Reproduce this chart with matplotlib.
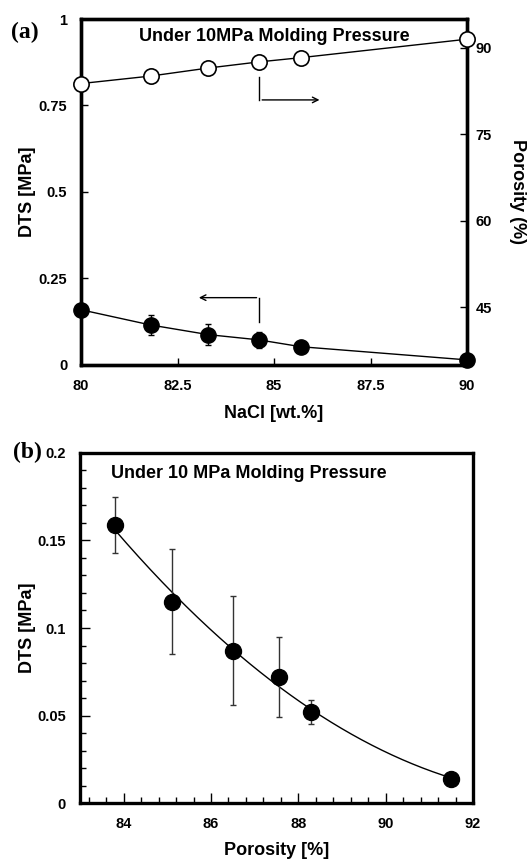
import numpy as np
import matplotlib
matplotlib.use('Agg')
import matplotlib.pyplot as plt
from matplotlib.ticker import MultipleLocator

plt.rcParams['font.family'] = ['Liberation Sans', 'DejaVu Sans']
plt.rcParams['font.weight'] = 'bold'

# Data
nacl = [80, 81.8, 83.3, 84.6, 85.7, 90]            # NaCl [wt.%]
porosity = [83.8, 85.1, 86.5, 87.55, 88.3, 91.5]    # Porosity [%]
dts = [0.159, 0.115, 0.087, 0.072, 0.052, 0.014]    # DTS [MPa]
dts_hi = [0.175, 0.145, 0.118, 0.095, 0.059, 0.014]
dts_lo = [0.143, 0.085, 0.056, 0.049, 0.045, 0.014]

dts = np.array(dts)
yerr = [dts - np.array(dts_lo), np.array(dts_hi) - dts]

fig = plt.figure(figsize=(5.32, 8.61), dpi=100)

# ---- panel (a) ----
ax = fig.add_axes([0.1523, 0.5764, 0.7256, 0.4015])
ax2 = ax.twinx()
ax.errorbar(nacl, dts, yerr=yerr, fmt='o-', color='black', ms=11, lw=1,
            elinewidth=1, capsize=2.5, zorder=3, clip_on=False)
ax2.plot(nacl, porosity, 'o-', color='black', mfc='white', mew=1.2, ms=11,
         lw=1, clip_on=False, zorder=3)
ax.set_xlim(80, 90)
ax.set_ylim(0, 1)
ax2.set_ylim(35, 95)
ax.set_xticks([80, 82.5, 85, 87.5, 90])
ax.set_xticklabels(['80', '82.5', '85', '87.5', '90'])
ax.set_yticks([0, 0.25, 0.5, 0.75, 1])
ax.set_yticklabels(['0', '0.25', '0.5', '0.75', '1'])
ax2.set_yticks([45, 60, 75, 90])
for a in (ax, ax2):
    for s in a.spines.values():
        s.set_linewidth(2.4)
    a.tick_params(direction='in', length=5, width=1, labelsize=10.5, pad=6)
ax.tick_params(axis='x', pad=10)
ax.tick_params(axis='y', pad=10)
ax.set_xlabel('NaCl [wt.%]', fontsize=13, fontweight='bold', labelpad=9)
ax.set_ylabel('DTS [MPa]', fontsize=13, fontweight='bold', labelpad=2)
ax2.set_ylabel('Porosity (%)', fontsize=13, fontweight='bold', rotation=-90,
               va='center')
ax2.yaxis.set_label_coords(1.13, 0.5)
ax.text(0.5, 0.95, 'Under 10MPa Molding Pressure', transform=ax.transAxes,
        ha='center', va='center', fontsize=13, fontweight='bold')
# direction arrows
ax.plot([84.62, 84.62], [0.832, 0.766], color='black', lw=1)
ax.annotate('', xy=(86.25, 0.766), xytext=(84.62, 0.766),
            arrowprops=dict(arrowstyle='->', color='black', lw=1))
ax.plot([84.62, 84.62], [0.124, 0.194], color='black', lw=1)
ax.annotate('', xy=(82.98, 0.194), xytext=(84.62, 0.194),
            arrowprops=dict(arrowstyle='->', color='black', lw=1))
fig.text(0.047, 0.962, '(a)', fontsize=17, fontweight='bold',
         family=['Liberation Serif', 'DejaVu Serif'], ha='center', va='center')

# ---- panel (b) ----
bx = fig.add_axes([0.1504, 0.0670, 0.7387, 0.4072])
coef = np.polyfit(porosity, dts, 2)
xf = np.linspace(min(porosity), max(porosity), 200)
bx.plot(xf, np.polyval(coef, xf), color='black', lw=1, zorder=2)
bx.errorbar(porosity, dts, yerr=yerr, fmt='o', color='black', ms=11.5,
            ecolor='#333333', elinewidth=1, capsize=2.5, zorder=3)
bx.set_xlim(83, 92)
bx.set_ylim(0, 0.2)
bx.set_xticks([84, 86, 88, 90, 92])
bx.set_yticks([0, 0.05, 0.1, 0.15, 0.2])
bx.set_yticklabels(['0', '0.05', '0.1', '0.15', '0.2'])
bx.xaxis.set_minor_locator(MultipleLocator(0.4))
bx.yaxis.set_minor_locator(MultipleLocator(0.01))
for s in bx.spines.values():
    s.set_linewidth(2.4)
bx.tick_params(which='major', direction='in', length=7, width=1,
               labelsize=10.5, pad=10)
bx.tick_params(which='minor', direction='in', length=4, width=1)
bx.set_xlabel('Porosity [%]', fontsize=13, fontweight='bold', labelpad=8)
bx.set_ylabel('DTS [MPa]', fontsize=13, fontweight='bold', labelpad=1)
bx.text(0.43, 0.94, 'Under 10 MPa Molding Pressure', transform=bx.transAxes,
        ha='center', va='center', fontsize=13, fontweight='bold')
fig.text(0.051, 0.474, '(b)', fontsize=17, fontweight='bold',
         family=['Liberation Serif', 'DejaVu Serif'], ha='center', va='center')

fig.savefig('out.png', dpi=100)
